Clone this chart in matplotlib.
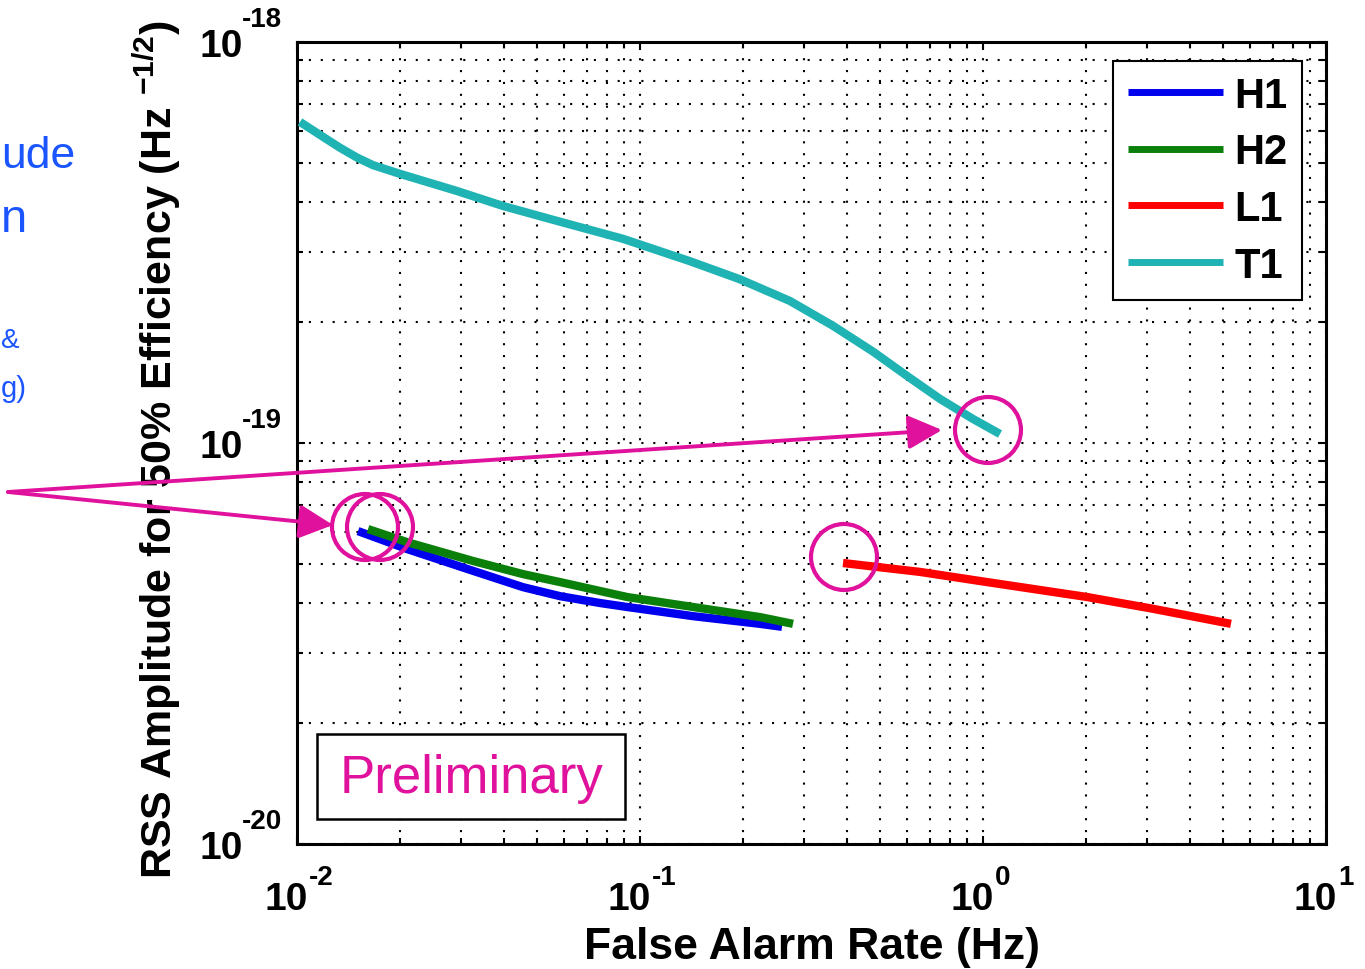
import matplotlib
matplotlib.use("Agg")
import matplotlib.pyplot as plt
from matplotlib.patches import Circle, FancyArrowPatch, Rectangle
from matplotlib.ticker import LogLocator, NullFormatter

# ---------------- data ----------------
h1_far = [0.01506, 0.02093, 0.03258, 0.0456, 0.05845, 0.07644, 0.09165, 0.1427, 0.2239, 0.2594]
h1_amp = [6.03e-20, 5.44e-20, 4.80e-20, 4.37e-20, 4.15e-20, 3.99e-20, 3.90e-20, 3.70e-20, 3.54e-20, 3.48e-20]

h2_far = [0.01611, 0.02093, 0.03258, 0.0456, 0.05845, 0.09165, 0.1427, 0.2239, 0.2793]
h2_amp = [6.10e-20, 5.66e-20, 5.08e-20, 4.71e-20, 4.50e-20, 4.13e-20, 3.90e-20, 3.68e-20, 3.54e-20]

l1_far = [0.3907, 0.6551, 1.027, 2.010, 3.130, 5.284]
l1_amp = [5.02e-20, 4.77e-20, 4.50e-20, 4.13e-20, 3.86e-20, 3.54e-20]

t1_far = [0.0102, 0.01191, 0.01334, 0.01496, 0.01666, 0.01997, 0.02928, 0.03988, 0.05728, 0.0892,
          0.1399, 0.1956, 0.2737, 0.3653, 0.4779, 0.6004, 0.7494, 0.935, 1.121]
t1_amp = [6.32e-19, 5.80e-19, 5.45e-19, 5.15e-19, 4.93e-19, 4.69e-19, 4.25e-19, 3.90e-19, 3.58e-19,
          3.23e-19, 2.84e-19, 2.56e-19, 2.26e-19, 1.96e-19, 1.69e-19, 1.47e-19, 1.288e-19, 1.148e-19,
          1.053e-19]

series_names = ["H1", "H2", "L1", "T1"]
series_colors = ["#0000ee", "#0a800a", "#ff0000", "#1fb3b3"]

xtick_vals = [1e-2, 1e-1, 1e0, 1e1]
xtick_exps = ["-2", "-1", "0", "1"]
ytick_vals = [1e-20, 1e-19, 1e-18]
ytick_exps = ["-20", "-19", "-18"]

# ---------------- style ----------------
plt.rcParams["font.family"] = ["Liberation Sans", "DejaVu Sans"]
plt.rcParams["mathtext.fontset"] = "custom"
plt.rcParams["mathtext.rm"] = "Liberation Sans:bold"
plt.rcParams["mathtext.bf"] = "Liberation Sans:bold"
plt.rcParams["mathtext.it"] = "Liberation Sans:bold"
plt.rcParams["mathtext.default"] = "bf"

W, H = 1365, 970
PT = 0.72  # points per pixel at dpi 100
fig = plt.figure(figsize=(W / 100, H / 100), dpi=100)
ax = fig.add_axes([297 / W, 1 - 845 / H, 1029 / W, 802 / H])

lines = []
for xs, ys, name, col in zip([h1_far, h2_far, l1_far, t1_far],
                             [h1_amp, h2_amp, l1_amp, t1_amp],
                             series_names, series_colors):
    ln, = ax.plot(xs, ys, color=col, lw=6, label=name, solid_capstyle="butt",
                  solid_joinstyle="round", zorder=3)
    lines.append(ln)

ax.set_xscale("log")
ax.set_yscale("log")
ax.set_xlim(1e-2, 1e1)
ax.set_ylim(1e-20, 1e-18)

ax.set_xticks(xtick_vals)
ax.set_yticks(ytick_vals)
ax.xaxis.set_minor_locator(LogLocator(base=10, subs=range(2, 10)))
ax.yaxis.set_minor_locator(LogLocator(base=10, subs=range(2, 10)))
for a in (ax.xaxis, ax.yaxis):
    a.set_major_formatter(NullFormatter())
    a.set_minor_formatter(NullFormatter())

ax.tick_params(which="both", direction="in", top=True, right=True, width=1.5, colors="black")
ax.tick_params(which="major", length=6)
ax.tick_params(which="minor", length=4)

for s in ax.spines.values():
    s.set_linewidth(2.2)
    s.set_color("black")

grid_ls = (0, (1, 4.7))
ax.grid(True, which="both", color="black", linestyle=grid_ls, linewidth=1.5)
ax.set_axisbelow(True)

# tick labels: "10" with raised exponent (MATLAB style)
for v, e in zip(xtick_vals, xtick_exps):
    ax.annotate("10", xy=(v, 0), xycoords=("data", "axes fraction"),
                xytext=(11 * PT, -65 * PT), textcoords="offset points",
                ha="right", va="baseline", fontsize=28, fontweight="bold", annotation_clip=False)
    ax.annotate(e, xy=(v, 0), xycoords=("data", "axes fraction"),
                xytext=(12 * PT, -40 * PT), textcoords="offset points",
                ha="left", va="baseline", fontsize=20, fontweight="bold", annotation_clip=False)
for v, e in zip(ytick_vals, ytick_exps):
    ax.annotate("10", xy=(0, v), xycoords=("axes fraction", "data"),
                xytext=(-54 * PT, -14 * PT), textcoords="offset points",
                ha="right", va="baseline", fontsize=28, fontweight="bold", annotation_clip=False)
    ax.annotate(e, xy=(0, v), xycoords=("axes fraction", "data"),
                xytext=(-55 * PT, 16 * PT), textcoords="offset points",
                ha="left", va="baseline", fontsize=20, fontweight="bold", annotation_clip=False)

ax.set_xlabel("False Alarm Rate (Hz)", fontsize=32, fontweight="bold")
ax.xaxis.set_label_coords(0.5, -0.102)
ax.set_ylabel(r"RSS Amplitude for 50% Efficiency (Hz $^{-1/2}$)", fontsize=31, fontweight="bold")
ax.yaxis.set_label_coords(-0.111, 0.4925)

leg = ax.legend(handles=lines, loc="upper right", bbox_to_anchor=(0.9767, 0.9763),
                prop={"weight": "bold", "size": 30}, frameon=True, fancybox=False,
                edgecolor="black", framealpha=1, handlelength=2.3, handletextpad=0.26,
                labelspacing=0.40, borderpad=0.35, borderaxespad=0.0)
leg.get_frame().set_linewidth(1.5)
for l in leg.get_lines():
    l.set_linewidth(5)

# ---------------- annotations (pixel overlay) ----------------
mag = "#e0119c"
ov = fig.add_axes([0, 0, 1, 1], facecolor="none")
ov.set_xlim(0, W)
ov.set_ylim(H, 0)
ov.axis("off")

ov.add_patch(Rectangle((317, 735), 308, 85, facecolor="white", edgecolor="black", lw=1.8, zorder=4))
ov.text(471, 779, "Preliminary", color=mag, fontsize=38, ha="center", va="center", zorder=5)

for cx, cy in [(988, 431), (844, 558), (365, 528), (380, 528)]:
    ov.add_patch(Circle((cx, cy), 33, facecolor="none", edgecolor=mag, lw=3, zorder=6))

for (x0, y0), (x1, y1) in [((8, 493), (942, 431)), ((8, 493), (333, 526))]:
    ov.add_patch(FancyArrowPatch((x0, y0), (x1, y1),
                                 arrowstyle="-|>,head_length=0.4,head_width=0.2",
                                 mutation_scale=52, shrinkA=0, shrinkB=0,
                                 color=mag, lw=2.8, zorder=6))

# slide text fragments visible at the left edge
blue = "#1a55ff"
ov.text(1, 168, "ude", color=blue, fontsize=32, ha="left", va="baseline")
ov.text(1, 232, "n", color=blue, fontsize=34, ha="left", va="baseline")
ov.text(1, 348, "&", color=blue, fontsize=20, ha="left", va="baseline")
ov.text(1, 397, "g)", color=blue, fontsize=21, ha="left", va="baseline")

fig.savefig("out.png", dpi=100)
